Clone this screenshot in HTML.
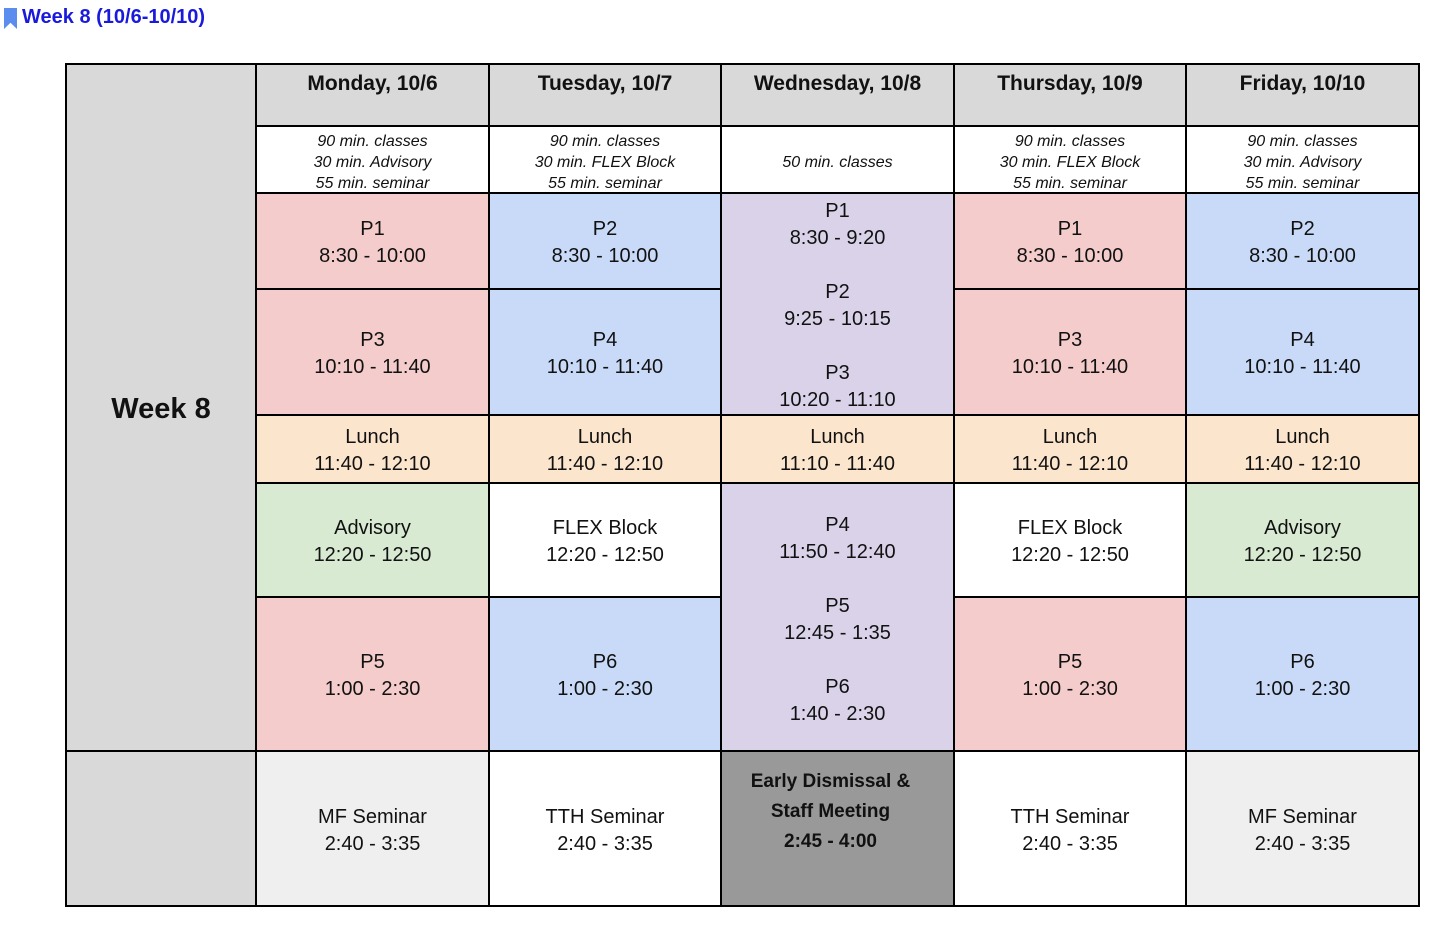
<!DOCTYPE html>
<html><head><meta charset="utf-8"><style>
body{margin:0;width:1437px;height:925px;background:#fff;position:relative;font-family:"Liberation Sans",sans-serif;overflow:hidden}
.c{position:absolute;display:flex;flex-direction:column;align-items:center;justify-content:center;text-align:center;font-size:20px;line-height:27px;color:#111;padding-top:4px;box-sizing:border-box}
.h{position:absolute;background:#000}
.hd{justify-content:flex-start;padding-top:6px;box-sizing:border-box;font-weight:bold;font-size:21px}
.n{font-style:italic;font-size:16px;line-height:21px}
.pk{background:#f4cccc}.bl{background:#c9daf8}.pu{background:#d9d2e9}.lu{background:#fce5cd}.gr{background:#d9ead3}.gy{background:#d9d9d9}.lg{background:#efefef}.dk{background:#999999}
</style></head><body>
<div style="position:absolute;left:4px;top:8px;width:13px;height:21px;background:#5b8def;clip-path:polygon(0 0,100% 0,100% 100%,50% 70%,0 100%)"></div>
<div style="position:absolute;left:22px;top:6px;font-weight:bold;font-size:20px;color:#1a1adc">Week 8 (10/6-10/10)</div>

<div class="c gy" style="left:66px;top:64px;width:190px;height:687px;font-weight:bold;font-size:29px">Week 8</div>
<div class="c gy" style="left:66px;top:751px;width:190px;height:155px"></div>

<div class="c gy hd" style="left:256px;top:64px;width:233px;height:62px">Monday, 10/6</div>
<div class="c gy hd" style="left:489px;top:64px;width:232px;height:62px">Tuesday, 10/7</div>
<div class="c gy hd" style="left:721px;top:64px;width:233px;height:62px">Wednesday, 10/8</div>
<div class="c gy hd" style="left:954px;top:64px;width:232px;height:62px">Thursday, 10/9</div>
<div class="c gy hd" style="left:1186px;top:64px;width:233px;height:62px">Friday, 10/10</div>

<div class="c n" style="left:256px;top:128px;width:233px;height:65px">90 min. classes<br>30 min. Advisory<br>55 min. seminar</div>
<div class="c n" style="left:489px;top:128px;width:232px;height:65px">90 min. classes<br>30 min. FLEX Block<br>55 min. seminar</div>
<div class="c n" style="left:721px;top:128px;width:233px;height:65px">50 min. classes</div>
<div class="c n" style="left:954px;top:128px;width:232px;height:65px">90 min. classes<br>30 min. FLEX Block<br>55 min. seminar</div>
<div class="c n" style="left:1186px;top:128px;width:233px;height:65px">90 min. classes<br>30 min. Advisory<br>55 min. seminar</div>

<div class="c pk" style="left:256px;top:193px;width:233px;height:96px">P1<br>8:30 - 10:00</div>
<div class="c bl" style="left:489px;top:193px;width:232px;height:96px">P2<br>8:30 - 10:00</div>
<div class="c pk" style="left:954px;top:193px;width:232px;height:96px">P1<br>8:30 - 10:00</div>
<div class="c bl" style="left:1186px;top:193px;width:233px;height:96px">P2<br>8:30 - 10:00</div>

<div class="c pk" style="left:256px;top:289px;width:233px;height:126px">P3<br>10:10 - 11:40</div>
<div class="c bl" style="left:489px;top:289px;width:232px;height:126px">P4<br>10:10 - 11:40</div>
<div class="c pk" style="left:954px;top:289px;width:232px;height:126px">P3<br>10:10 - 11:40</div>
<div class="c bl" style="left:1186px;top:289px;width:233px;height:126px">P4<br>10:10 - 11:40</div>

<div class="c pu" style="left:721px;top:193px;width:233px;height:222px;justify-content:flex-start;padding-top:0">
<div style="margin-top:5px">P1<br>8:30 - 9:20</div><div style="margin-top:27px">P2<br>9:25 - 10:15</div><div style="margin-top:27px">P3<br>10:20 - 11:10</div></div>

<div class="c lu" style="left:256px;top:415px;width:233px;height:68px">Lunch<br>11:40 - 12:10</div>
<div class="c lu" style="left:489px;top:415px;width:232px;height:68px">Lunch<br>11:40 - 12:10</div>
<div class="c lu" style="left:721px;top:415px;width:233px;height:68px">Lunch<br>11:10 - 11:40</div>
<div class="c lu" style="left:954px;top:415px;width:232px;height:68px">Lunch<br>11:40 - 12:10</div>
<div class="c lu" style="left:1186px;top:415px;width:233px;height:68px">Lunch<br>11:40 - 12:10</div>

<div class="c gr" style="left:256px;top:483px;width:233px;height:114px">Advisory<br>12:20 - 12:50</div>
<div class="c" style="left:489px;top:483px;width:232px;height:114px">FLEX Block<br>12:20 - 12:50</div>
<div class="c" style="left:954px;top:483px;width:232px;height:114px">FLEX Block<br>12:20 - 12:50</div>
<div class="c gr" style="left:1186px;top:483px;width:233px;height:114px">Advisory<br>12:20 - 12:50</div>

<div class="c pu" style="left:721px;top:483px;width:233px;height:268px;justify-content:flex-start;padding-top:0">
<div style="margin-top:29px">P4<br>11:50 - 12:40</div><div style="margin-top:27px">P5<br>12:45 - 1:35</div><div style="margin-top:27px">P6<br>1:40 - 2:30</div></div>

<div class="c pk" style="left:256px;top:597px;width:233px;height:154px">P5<br>1:00 - 2:30</div>
<div class="c bl" style="left:489px;top:597px;width:232px;height:154px">P6<br>1:00 - 2:30</div>
<div class="c pk" style="left:954px;top:597px;width:232px;height:154px">P5<br>1:00 - 2:30</div>
<div class="c bl" style="left:1186px;top:597px;width:233px;height:154px">P6<br>1:00 - 2:30</div>

<div class="c lg" style="left:256px;top:751px;width:233px;height:155px">MF Seminar<br>2:40 - 3:35</div>
<div class="c" style="left:489px;top:751px;width:232px;height:155px">TTH Seminar<br>2:40 - 3:35</div>
<div class="c dk" style="left:721px;top:751px;width:233px;height:155px;justify-content:flex-start;font-weight:bold;font-size:19px;line-height:30px;padding-top:0"><div style="margin-top:16px;margin-right:14px">Early Dismissal &amp;<br>Staff Meeting<br>2:45 - 4:00</div></div>
<div class="c" style="left:954px;top:751px;width:232px;height:155px">TTH Seminar<br>2:40 - 3:35</div>
<div class="c lg" style="left:1186px;top:751px;width:233px;height:155px">MF Seminar<br>2:40 - 3:35</div>

<div class="h" style="left:65px;top:63px;width:1355px;height:2px"></div>
<div class="h" style="left:65px;top:905px;width:1355px;height:2px"></div>
<div class="h" style="left:65px;top:750px;width:1355px;height:2px"></div>
<div class="h" style="left:255px;top:125px;width:1165px;height:2px"></div>
<div class="h" style="left:255px;top:192px;width:1165px;height:2px"></div>
<div class="h" style="left:255px;top:288px;width:467px;height:2px"></div>
<div class="h" style="left:953px;top:288px;width:467px;height:2px"></div>
<div class="h" style="left:255px;top:414px;width:1165px;height:2px"></div>
<div class="h" style="left:255px;top:482px;width:1165px;height:2px"></div>
<div class="h" style="left:255px;top:596px;width:467px;height:2px"></div>
<div class="h" style="left:953px;top:596px;width:467px;height:2px"></div>
<div class="h" style="left:65px;top:63px;width:2px;height:844px"></div>
<div class="h" style="left:255px;top:63px;width:2px;height:844px"></div>
<div class="h" style="left:488px;top:63px;width:2px;height:844px"></div>
<div class="h" style="left:720px;top:63px;width:2px;height:844px"></div>
<div class="h" style="left:953px;top:63px;width:2px;height:844px"></div>
<div class="h" style="left:1185px;top:63px;width:2px;height:844px"></div>
<div class="h" style="left:1418px;top:63px;width:2px;height:844px"></div>
</body></html>
